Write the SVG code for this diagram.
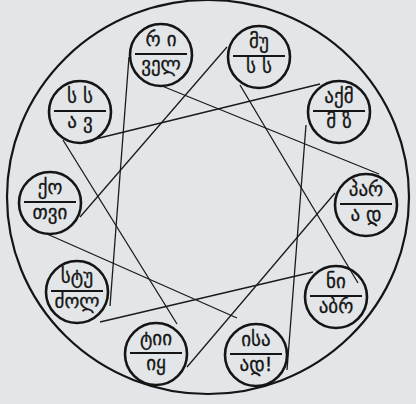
<svg xmlns="http://www.w3.org/2000/svg" width="416" height="404" viewBox="0 0 416 404">
<style>
.bg{fill:#e3e6e8}
.ring{fill:none;stroke:#151515;stroke-width:2.2}
.node circle{fill:none;stroke:#151515;stroke-width:2.6}
.node line{stroke:#151515;stroke-width:2}
.node text{font-family:"DejaVu Sans",sans-serif;font-size:19px;fill:#151515;stroke:#151515;stroke-width:0.3;text-anchor:middle}
.links line{stroke:#1a1a1a;stroke-width:1.3}
</style>
<rect class="bg" x="0" y="0" width="416" height="404"/>
<ellipse class="ring" cx="208" cy="197" rx="201" ry="197"/>
<g class="links">
<line x1="129" y1="57" x2="110" y2="306"/>
<line x1="162" y1="86" x2="379" y2="174"/>
<line x1="227" y1="47" x2="80" y2="217"/>
<line x1="240" y1="85" x2="358" y2="283"/>
<line x1="83" y1="142" x2="320" y2="84"/>
<line x1="63" y1="140" x2="177" y2="324"/>
<line x1="306" y1="125" x2="287" y2="370"/>
<line x1="47" y1="234" x2="237" y2="318"/>
<line x1="335" y1="193" x2="187" y2="367"/>
<line x1="100" y1="322" x2="313" y2="272"/>
</g>
<g id="n-ri" class="node"><circle cx="161" cy="55" r="31"/><line x1="135" y1="54" x2="187" y2="54"/><text x="161" y="46">რ ი</text><text x="161" y="71">ველ</text></g>
<g id="n-mu" class="node"><circle cx="259" cy="57" r="31"/><line x1="233" y1="56" x2="285" y2="56"/><text x="259" y="48">მუ</text><text x="259" y="73">ს ს</text></g>
<g id="n-ss" class="node"><circle cx="80" cy="112" r="31"/><line x1="54" y1="111" x2="106" y2="111"/><text x="80" y="103">ს ს</text><text x="80" y="128">ა ვ</text></g>
<g id="n-aqm" class="node"><circle cx="339" cy="112" r="31"/><line x1="313" y1="111" x2="365" y2="111"/><text x="339" y="103">აქმ</text><text x="339" y="128">მ ზ</text></g>
<g id="n-qo" class="node"><circle cx="50" cy="203" r="31"/><line x1="24" y1="202" x2="76" y2="202"/><text x="50" y="194">ქო</text><text x="50" y="219">თვი</text></g>
<g id="n-par" class="node"><circle cx="366" cy="205" r="31"/><line x1="340" y1="204" x2="392" y2="204"/><text x="366" y="196">პარ</text><text x="366" y="221">ა დ</text></g>
<g id="n-stu" class="node"><circle cx="77" cy="292" r="31"/><line x1="51" y1="291" x2="103" y2="291"/><text x="77" y="283">სტუ</text><text x="77" y="308">ძოლ</text></g>
<g id="n-ni" class="node"><circle cx="336" cy="297" r="31"/><line x1="310" y1="296" x2="362" y2="296"/><text x="336" y="288">ნი</text><text x="336" y="313">აბრ</text></g>
<g id="n-tii" class="node"><circle cx="156" cy="354" r="31"/><line x1="130" y1="353" x2="182" y2="353"/><text x="156" y="345">ტიი</text><text x="156" y="370">იყ</text></g>
<g id="n-isa" class="node"><circle cx="256" cy="355" r="31"/><line x1="230" y1="354" x2="282" y2="354"/><text x="256" y="346">ისა</text><text x="256" y="371">ად!</text></g>
</svg>
